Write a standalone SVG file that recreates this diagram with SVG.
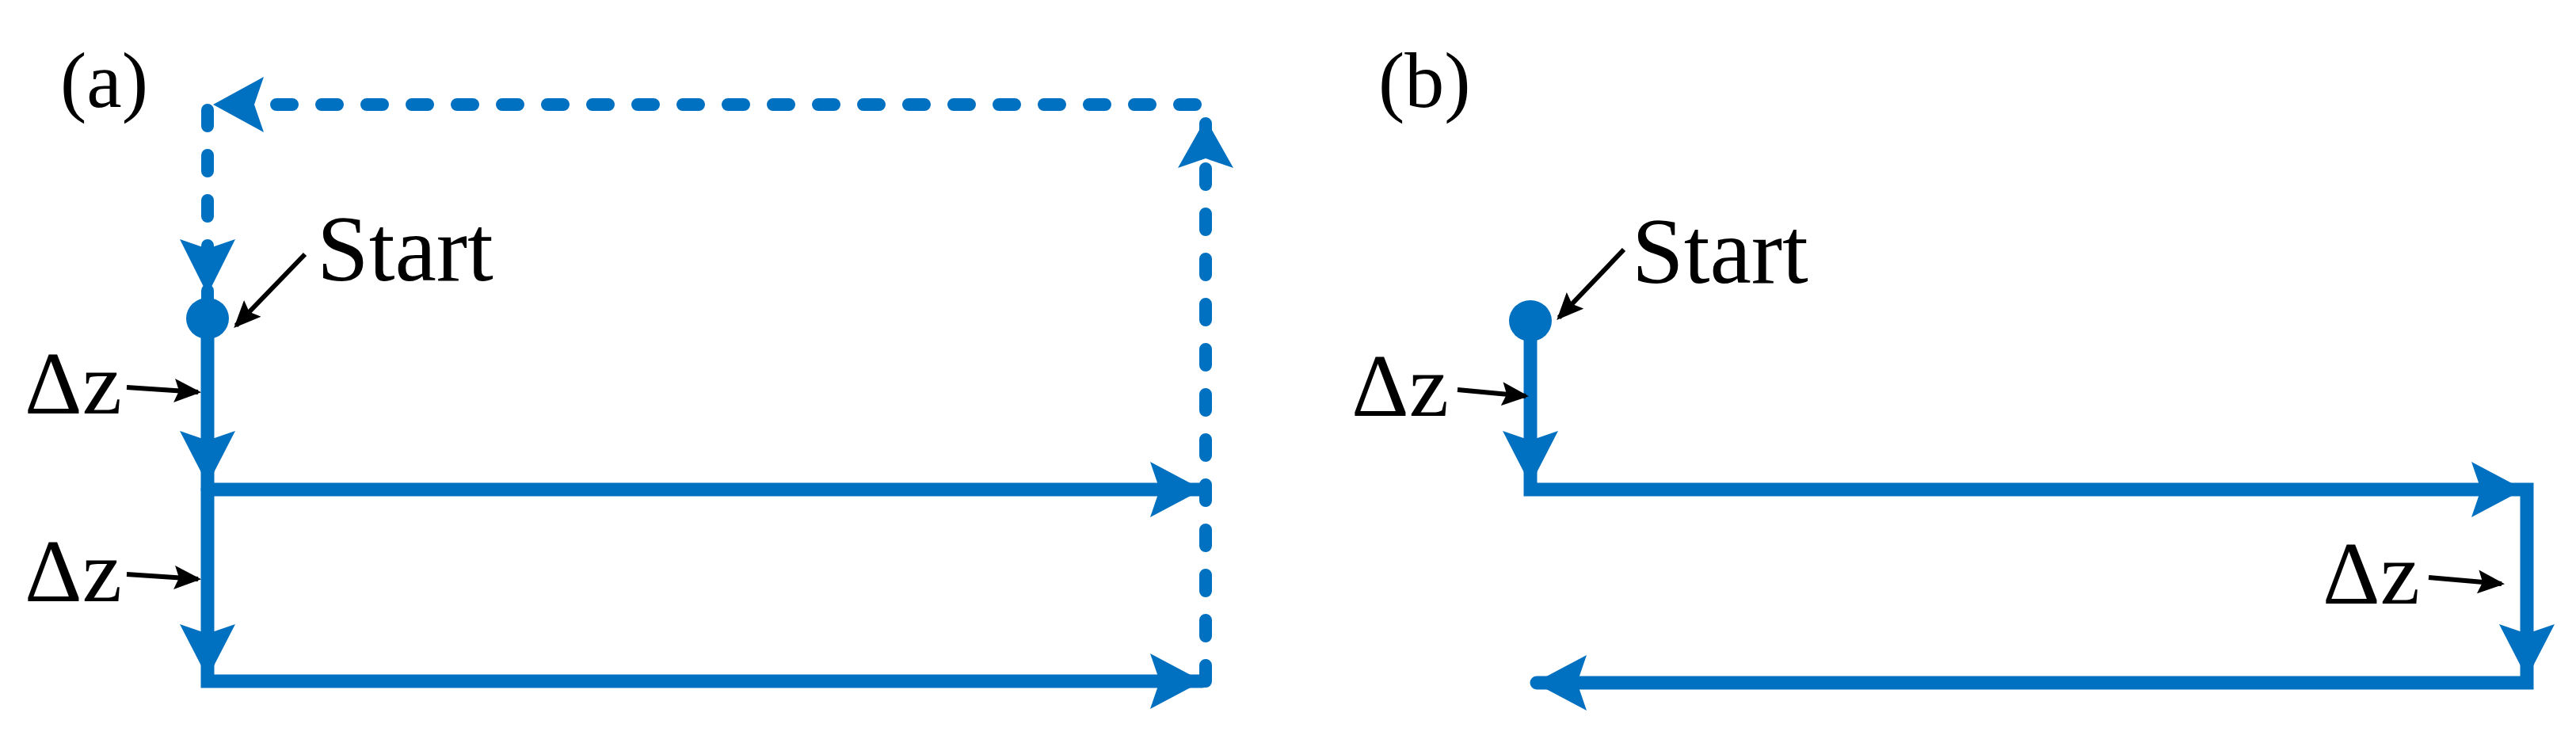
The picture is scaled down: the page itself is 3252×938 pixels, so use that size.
<svg xmlns="http://www.w3.org/2000/svg" width="3252" height="938" viewBox="0 0 3252 938">
<style>
.t{font-family:"Liberation Serif","Times New Roman",serif;fill:#000}
.s{stroke:#0070C0;stroke-width:17;fill:none;stroke-linecap:round}
.d{stroke:#0070C0;stroke-width:16;fill:none;stroke-linecap:round;stroke-dasharray:20 37}
.h{fill:#0070C0}
.k{stroke:#000;stroke-width:6;fill:none}
</style>
<defs>
<marker id="ka" markerUnits="userSpaceOnUse" markerWidth="34" markerHeight="30" refX="30" refY="15" orient="auto"><path d="M0,0 L34,15 L0,30 L6,15 Z" fill="#000"/></marker>
</defs>
<g id="labels">
<text class="t" x="76" y="135" font-size="100">(a)</text>
<text class="t" x="1740" y="135" font-size="100">(b)</text>
</g>
<g id="connectors">
<!-- panel a -->
<path class="d" d="M1522,860 V132 H262 V380"/>
<path class="s" d="M262,402 V860 H1518"/>
<path class="s" d="M262,618 H1518"/>
<polygon class="h" points="1522,150 1557,212 1522,200 1487,212"/>
<polygon class="h" points="269,132 333,97 321,132 333,167"/>
<polygon class="h" points="262,372 227,302 262,314 297,302"/>
<polygon class="h" points="262,612 227,544 262,556 297,544"/>
<polygon class="h" points="262,856 227,788 262,800 297,788"/>
<polygon class="h" points="1518,618 1452,583 1464,618 1452,653"/>
<polygon class="h" points="1518,860 1452,825 1464,860 1452,895"/>
<!-- panel b -->
<path class="s" d="M1932,405 V618 H3190 V862 H1940"/>
<polygon class="h" points="1932,612 1897,544 1932,556 1967,544"/>
<polygon class="h" points="3186,618 3120,583 3132,618 3120,653"/>
<polygon class="h" points="3190,856 3155,788 3190,800 3225,788"/>
<polygon class="h" points="1937,862 2003,827 1991,862 2003,897"/>
<!-- black pointers -->
<line class="k" x1="385" y1="321" x2="298" y2="411" marker-end="url(#ka)"/>
<line class="k" x1="160" y1="489" x2="250" y2="495" marker-end="url(#ka)"/>
<line class="k" x1="160" y1="725" x2="250" y2="731" marker-end="url(#ka)"/>
<line class="k" x1="2050" y1="315" x2="1968" y2="401" marker-end="url(#ka)"/>
<line class="k" x1="1840" y1="492" x2="1926" y2="500" marker-end="url(#ka)"/>
<line class="k" x1="3066" y1="729" x2="3158" y2="737" marker-end="url(#ka)"/>
</g>
<g id="start-a"><ellipse class="h" cx="262" cy="402" rx="27" ry="26"/><text class="t" x="400" y="354" font-size="118">Start</text></g>
<g id="start-b"><ellipse class="h" cx="1932" cy="405" rx="27" ry="26"/><text class="t" x="2060" y="357" font-size="118">Start</text></g>
<g id="dz-a1"><text class="t" x="31" y="522" font-size="113">Δz</text></g>
<g id="dz-a2"><text class="t" x="31" y="759" font-size="113">Δz</text></g>
<g id="dz-b1"><text class="t" x="1706" y="525" font-size="113">Δz</text></g>
<g id="dz-b2"><text class="t" x="2932" y="762" font-size="113">Δz</text></g>
</svg>
